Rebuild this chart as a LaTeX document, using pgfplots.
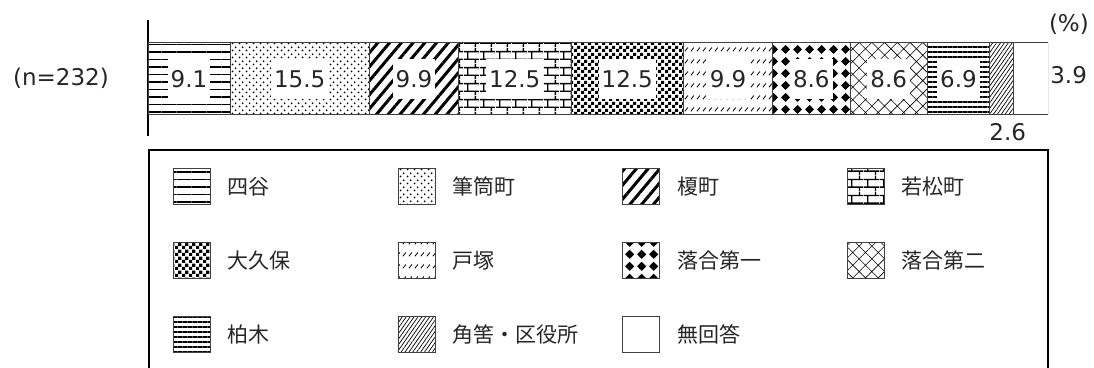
\documentclass[border=0pt]{standalone}
\usepackage{fontspec}
\setmainfont{DejaVu Sans}
\newfontfamily\jp{Noto Sans CJK JP}
\usepackage{pgfplots}
\pgfplotsset{compat=1.18}
\usetikzlibrary{patterns.meta}

% patterns of the segments
\tikzdeclarepattern{name=pdots, type=uncolored,
  bottom left={(0pt,0pt)}, top right={(7pt,7pt)}, tile size={(7pt,7pt)},
  code={\pgfpathcircle{\pgfpoint{1.75pt}{1.75pt}}{1.1pt}
        \pgfpathcircle{\pgfpoint{5.25pt}{5.25pt}}{1.1pt}\pgfusepath{fill}}}
\tikzdeclarepattern{name=pbricks, type=uncolored,
  bottom left={(0pt,0pt)}, top right={(16pt,16pt)}, tile size={(16pt,16pt)},
  code={\pgfsetlinewidth{1.4pt}
    \pgfpathmoveto{\pgfpoint{0pt}{4pt}}\pgfpathlineto{\pgfpoint{16pt}{4pt}}
    \pgfpathmoveto{\pgfpoint{0pt}{12pt}}\pgfpathlineto{\pgfpoint{16pt}{12pt}}
    \pgfpathmoveto{\pgfpoint{4pt}{4pt}}\pgfpathlineto{\pgfpoint{4pt}{12pt}}
    \pgfpathmoveto{\pgfpoint{12pt}{12pt}}\pgfpathlineto{\pgfpoint{12pt}{16pt}}
    \pgfpathmoveto{\pgfpoint{12pt}{0pt}}\pgfpathlineto{\pgfpoint{12pt}{4pt}}
    \pgfusepath{stroke}}}
\tikzdeclarepattern{name=pchecker, type=uncolored,
  bottom left={(0pt,0pt)}, top right={(7pt,7pt)}, tile size={(7pt,7pt)},
  code={\pgfpathrectangle{\pgfpointorigin}{\pgfpoint{3.5pt}{3.5pt}}
        \pgfpathrectangle{\pgfpoint{3.5pt}{3.5pt}}{\pgfpoint{3.5pt}{3.5pt}}\pgfusepath{fill}}}
\tikzdeclarepattern{name=pdash, type=uncolored,
  bottom left={(0pt,0pt)}, top right={(6pt,12pt)}, tile size={(6pt,12pt)},
  code={\pgfsetlinewidth{0.9pt}\pgfpathmoveto{\pgfpoint{1pt}{4pt}}
        \pgfpathlineto{\pgfpoint{4.5pt}{8pt}}\pgfusepath{stroke}}}
\tikzdeclarepattern{name=pdiam, type=uncolored,
  bottom left={(0pt,0pt)}, top right={(12pt,12pt)}, tile size={(12pt,12pt)},
  code={\pgfpathmoveto{\pgfpoint{6pt}{1.2pt}}\pgfpathlineto{\pgfpoint{10.8pt}{6pt}}
        \pgfpathlineto{\pgfpoint{6pt}{10.8pt}}\pgfpathlineto{\pgfpoint{1.2pt}{6pt}}
        \pgfpathclose\pgfusepath{fill}
        \pgfpathcircle{\pgfpoint{6pt}{6pt}}{3.3pt}\pgfusepath{fill}}}

\pgfplotsset{
  leg/.style={draw=black!75, line width=0.8pt,
    legend image code/.code={\draw[##1, line width=0.8pt] (0pt,-18pt) rectangle (37pt,18pt);}},
}

\begin{document}
\begin{tikzpicture}
\begin{axis}[
  at={(148pt,231pt)}, anchor=south west,
  scale only axis, width=900pt, height=116pt,
  xbar stacked, bar width=72pt,
  xmin=0, xmax=100, ymin=-1, ymax=1,
  axis x line=none, axis y line=left,
  axis line style={-, line width=1.5pt, black},
  xtick=\empty, ytick={0}, yticklabels={(n=232)},
  major tick length=0pt,
  yticklabel style={font=\fontsize{23}{23}\selectfont, text=black!85, inner sep=0pt, xshift=-39pt},
  point meta=explicit symbolic,
  nodes near coords,
  nodes near coords style={font=\fontsize{23}{23}\selectfont, text=black!85, fill=white,
    inner xsep=3pt, inner ysep=0pt, minimum height=40pt, anchor=center, yshift=-1pt},
  legend columns=4, legend cell align=left,
  legend style={at={(0,-0.1121)}, anchor=north west, draw=black, line width=1.5pt,
    inner xsep=24pt, inner ysep=18.5pt, row sep=37pt,
    font=\jp\fontsize{21}{21}\selectfont, text=black!85,
    nodes={inner sep=0pt},
    /tikz/every odd column/.append style={column sep=17pt}},
]
\addplot[leg, pattern={Lines[distance=7.5pt,line width=1.1pt]}] coordinates {(9.1,0) [9.1]};
\addlegendentry{\makebox[170pt][l]{四谷}}
\addplot[leg, pattern=pdots] coordinates {(15.5,0) [15.5]};
\addlegendentry{\makebox[170pt][l]{筆筒町}}
\addplot[leg, pattern={Lines[angle=50,distance=9pt,line width=3pt]}] coordinates {(9.9,0) [9.9]};
\addlegendentry{\makebox[170pt][l]{榎町}}
\addplot[leg, pattern=pbricks] coordinates {(12.5,0) [12.5]};
\addlegendentry{\makebox[122pt][l]{若松町}}
\addplot[leg, pattern=pchecker] coordinates {(12.5,0) [12.5]};
\addlegendentry{\makebox[170pt][l]{大久保}}
\addplot[leg, pattern=pdash] coordinates {(9.9,0) [9.9]};
\addlegendentry{\makebox[170pt][l]{戸塚}}
\addplot[leg, pattern=pdiam] coordinates {(8.6,0) [8.6]};
\addlegendentry{\makebox[170pt][l]{落合第一}}
\addplot[leg, pattern={Hatch[angle=45,distance=9pt,line width=0.6pt]}] coordinates {(8.6,0) [8.6]};
\addlegendentry{\makebox[122pt][l]{落合第二}}
\addplot[leg, pattern={Lines[distance=5pt,line width=2.4pt]}] coordinates {(6.9,0) [6.9]};
\addlegendentry{\makebox[170pt][l]{柏木}}
\addplot[leg, pattern={Lines[angle=55,distance=3.2pt,line width=0.7pt]},
  nodes near coords style={anchor=north, fill=none, minimum height=0pt, inner sep=0pt,
    xshift=6.5pt, yshift=-44pt}] coordinates {(2.6,0) [2.6]};
\addlegendentry{\makebox[170pt][l]{角筈・区役所}}
\addplot[leg, fill=white,
  nodes near coords style={anchor=west, fill=none, minimum height=0pt, inner sep=0pt,
    xshift=19.5pt, yshift=3.5pt}] coordinates {(3.9,0) [3.9]};
\addlegendentry{\makebox[170pt][l]{無回答}}
\end{axis}
\node[anchor=base east, inner sep=0pt, font=\fontsize{23}{23}\selectfont, text=black!85]
  at (1089pt,335pt) {(\%)};
\pgfresetboundingbox
\useasboundingbox (0,0) rectangle (1094pt,367pt);
\end{tikzpicture}
\end{document}
